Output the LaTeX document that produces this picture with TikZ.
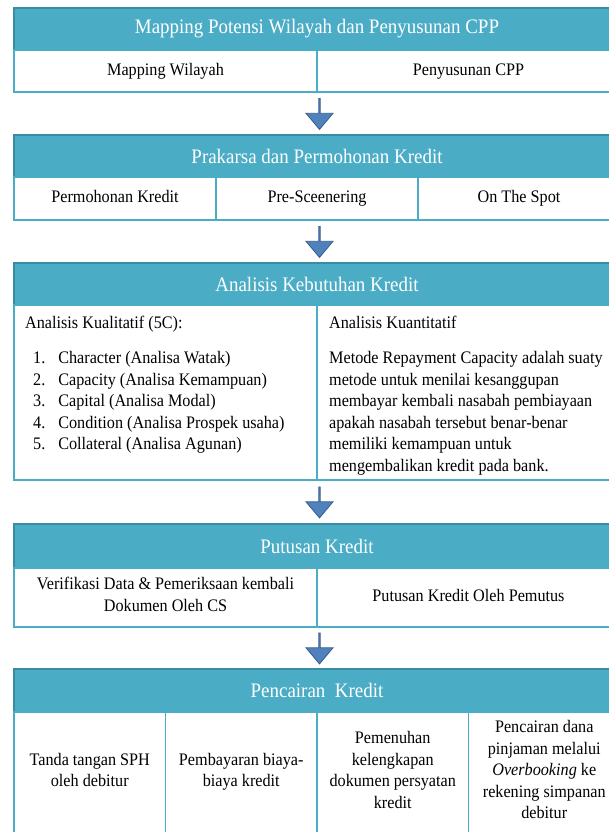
\documentclass[tikz,border=0pt]{standalone}
\usepackage{fontspec}
\setmainfont{Liberation Serif}[FakeStretch=0.92]
\usepackage{tikz}
\usetikzlibrary{positioning, calc}
\usetikzlibrary{shapes.arrows}
\definecolor{headfill}{HTML}{4BACC6}
\definecolor{headline}{HTML}{3A8CA3}
\definecolor{cellline}{HTML}{4BACC6}
\definecolor{arrowfill}{HTML}{4F81BD}
\definecolor{arrowline}{HTML}{385D8A}

\begin{document}
\begin{tikzpicture}[
    x=1pt, y=-1pt,
    head/.style={draw=headline, fill=headfill, line width=1.5pt, text=white, font=\fontsize{20.6}{24}\selectfont, minimum width=606pt, minimum height=42pt, inner sep=0pt, outer sep=0pt, anchor=north west},
    cell/.style={draw=cellline, line width=1.5pt, font=\fontsize{17.6}{21.5}\selectfont, align=center, inner sep=0pt, outer sep=0pt, anchor=north west, execute at begin node=\strut, execute at end node=\strut},
    col/.style={font=\fontsize{17.6}{21.5}\selectfont, align=left, inner sep=0pt, anchor=north west},
    s arrow/.style={draw=arrowline, fill=arrowfill, thick, single arrow, single arrow tip angle=80, minimum width=27pt, minimum height=31pt, single arrow head extend=7.5pt, inner sep=0pt, rotate=-90}
]
    \useasboundingbox (0,0) rectangle (609,832);
    \clip (0,0) rectangle (609,832);

    % Mapping
    \draw (14,8) node[head] (map) {Mapping Potensi Wilayah dan Penyusunan CPP};
    \draw (map.south west) node[cell, minimum width=303pt, minimum height=42pt] (map0) {Mapping Wilayah};
    \draw (map0.north east) node[cell, minimum width=303pt, minimum height=42pt] (map1) {Penyusunan CPP};

    % Prakarsa
    \draw (map0.south west) ++(0,43) node[head] (prk) {Prakarsa dan Permohonan Kredit};
    \foreach \t [count=\i from 0] in {Permohonan Kredit, Pre-Sceenering, On The Spot} {
        \draw (prk.south west) ++(202*\i,0) node[cell, minimum width=202pt, minimum height=43pt] (prk\i) {\t};
    }

    % Analisis
    \draw (prk0.south west) ++(0,43) node[head] (ana) {Analisis Kebutuhan Kredit};
    \draw (ana.south west) node[cell, minimum width=303pt, minimum height=175pt] (kual) {};
    \draw (kual.north east) node[cell, minimum width=303pt, minimum height=175pt] (kuan) {};
    \draw (kual.north west) ++(11,11) node[col] (kualtxt) {Analisis Kualitatif (5C):\\[13.5pt]
        \begin{tabular}[t]{@{\hspace{8pt}}r@{\hspace{13pt}}l@{}}
            1. & Character (Analisa Watak)\\
            2. & Capacity (Analisa Kemampuan)\\
            3. & Capital (Analisa Modal)\\
            4. & Condition (Analisa Prospek usaha)\\
            5. & Collateral (Analisa Agunan)
        \end{tabular}};
    \draw (kuan.north west) ++(12,11) node[col] (kuantxt) {Analisis Kuantitatif\\[13.5pt]
        Metode Repayment Capacity adalah suaty\\
        metode untuk menilai kesanggupan\\
        membayar kembali nasabah pembiayaan\\
        apakah nasabah tersebut benar-benar\\
        memiliki kemampuan untuk\\
        mengembalikan kredit pada bank.};

    % Putusan
    \draw (kual.south west) ++(0,44) node[head, minimum height=44pt] (put) {Putusan Kredit};
    \draw (put.south west) node[cell, minimum width=303pt, minimum height=59pt] (put0) {Verifikasi Data \& Pemeriksaan kembali\\ Dokumen Oleh CS};
    \draw (put0.north east) node[cell, minimum width=303pt, minimum height=59pt] (put1) {Putusan Kredit Oleh Pemutus};

    % Pencairan
    \draw (put0.south west) ++(0,42) node[head, minimum height=43pt] (cair) {Pencairan~ Kredit};
    \foreach \t [count=\i from 0] in {{Tanda tangan SPH\\ oleh debitur}, {Pembayaran biaya-\\ biaya kredit}, {Pemenuhan\\ kelengkapan\\ dokumen persyatan\\ kredit}, {Pencairan dana\\ pinjaman melalui\\ \textit{Overbooking} ke\\ rekening simpanan\\ debitur}} {
        \draw (cair.south west) ++(151.5*\i,0) node[cell, minimum width=151.5pt, minimum height=122pt] (cair\i) {\t};
    }

    % arrows between stages
    \draw ($(map0.south east)!.5!(map0.south east|-prk.north)$) ++(2.5,0) node[s arrow] (arr1) {};
    \draw ($(kual.north east|-prk0.south)!.5!(ana.north)$) ++(2.5,0) node[s arrow] (arr2) {};
    \draw ($(kual.south east)!.5!(kual.south east|-put.north)$) ++(2.5,0) node[s arrow] (arr3) {};
    \draw ($(put0.south east)!.5!(put0.south east|-cair.north)$) ++(2.5,0) node[s arrow] (arr4) {};

\end{tikzpicture}
\end{document}
